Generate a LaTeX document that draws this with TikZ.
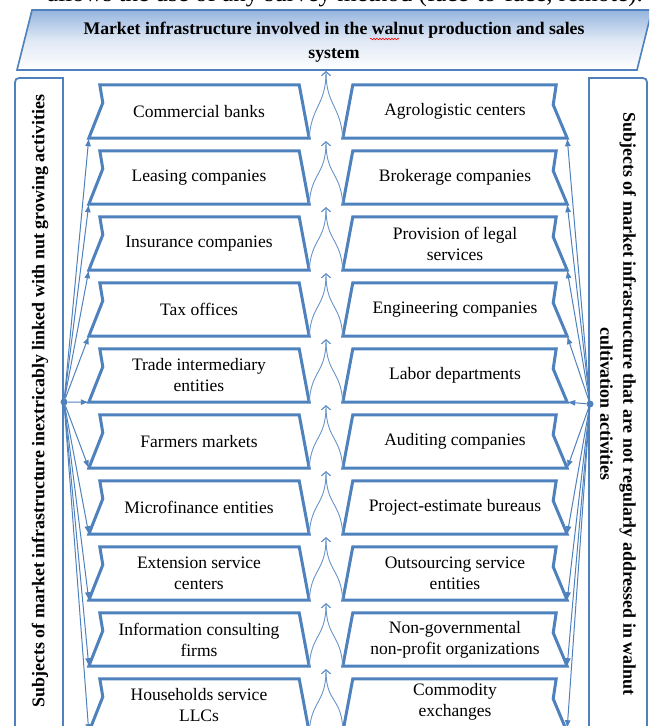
\documentclass[tikz,border=0pt]{standalone}
\usepackage{fontspec}
\setmainfont{Liberation Serif}
\usetikzlibrary{calc,arrows.meta,positioning,decorations.pathmorphing}

\definecolor{boxblue}{RGB}{79,129,189}
\definecolor{bannerblue}{RGB}{150,180,222}

\begin{document}
\begin{tikzpicture}[x=1pt, y=-1pt, >={Latex[length=8pt,width=6pt]}]
    % Define styles for boxes, hubs and connectors
    \tikzstyle{frame} = [draw=boxblue, line width=3pt, line join=miter]
    \tikzstyle{side} = [draw=boxblue, line width=1.8pt]
    \tikzstyle{entity} = [minimum width=220pt, minimum height=53pt, inner sep=0pt, align=center, font=\fontsize{17.5}{21}\selectfont]
    \tikzstyle{rentity} = [entity, minimum width=224pt]
    \tikzstyle{title} = [align=center, font=\fontsize{17.7}{24}\selectfont\bfseries]
    \tikzstyle{sidetext} = [align=center, font=\fontsize{17.9}{23}\selectfont\bfseries]
    \tikzstyle{hub} = [circle, fill=boxblue, inner sep=0pt, minimum size=7pt]
    \tikzstyle{fan} = [draw=boxblue, line width=1pt, ->]
    \tikzstyle{flow} = [draw=boxblue!85, line width=0.9pt, -{Straight Barb[length=4pt,width=9pt]}]

    \useasboundingbox (0,0) rectangle (649,726);
    \clip (0,0) rectangle (649,726);

    % Page text and banner
    \node[anchor=base, font=\fontsize{25}{28}\selectfont] (pageline) at (345,1) {allows the use of any survey method (face-to-face, remote).};
    \draw[draw=boxblue, line width=1.6pt, top color=bannerblue, bottom color=white, middle color=white!70!bannerblue] (32,10) -- (652,10) -- (637,70) -- (17,70) -- cycle;
    \node[title] (banner) at (334,42) {Market infrastructure involved in the walnut production and sales\\ system};
    \draw[red, line width=0.6pt, decorate, decoration={snake, amplitude=0.8pt, segment length=3pt}] (370,39) -- (399,39);

    % Side boxes
    \draw[side] (63,740) -- (63,78) -- (24,78) .. controls (15,78) .. (15,87) -- (15,740);
    \draw[side] (589,740) -- (589,78) -- (638,78) .. controls (647,78) .. (647,87) -- (647,740);
    \node[sidetext, rotate=90] (sideL) at (40,401) {Subjects of market infrastructure inextricably linked with nut growing activities};
    \node[sidetext, rotate=-90] (sideR) at (618,404) {Subjects of market infrastructure that are not regularly addressed in walnut\\ cultivation activities};

    % Nodes placement
    \node[entity] (L1) at (199,111.5) {Commercial banks};
    \node[entity, below of=L1, node distance=66pt] (L2) {Leasing companies};
    \node[entity, below of=L2, node distance=66pt] (L3) {Insurance companies};
    \node[entity, below of=L3, node distance=66pt] (L4) {Tax offices};
    \node[entity, below of=L4, node distance=66pt] (L5) {Trade intermediary\\ entities};
    \node[entity, below of=L5, node distance=66pt] (L6) {Farmers markets};
    \node[entity, below of=L6, node distance=66pt] (L7) {Microfinance entities};
    \node[entity, below of=L7, node distance=66pt] (L8) {Extension service\\ centers};
    \node[entity, below of=L8, node distance=66pt] (L9) {Information consulting\\ firms};
    \node[entity, below of=L9, node distance=66pt] (L10) {Households service\\ LLCs};

    \node[rentity, right of=L1, node distance=256pt] (R1) {Agrologistic centers};
    \node[rentity, below of=R1, node distance=66pt] (R2) {Brokerage companies};
    \node[rentity, below of=R2, node distance=66pt] (R3) {Provision of legal\\ services};
    \node[rentity, below of=R3, node distance=66pt] (R4) {Engineering companies};
    \node[rentity, below of=R4, node distance=66pt] (R5) {Labor departments};
    \node[rentity, below of=R5, node distance=66pt] (R6) {Auditing companies};
    \node[rentity, below of=R6, node distance=66pt] (R7) {Project-estimate bureaus};
    \node[rentity, below of=R7, node distance=66pt] (R8) {Outsourcing service\\ entities};
    \node[rentity, below of=R8, node distance=66pt] (R9) {Non-governmental\\ non-profit organizations};
    \node[rentity, below of=R9, node distance=66pt, yshift=4pt] (R10) {Commodity\\ exchanges};

    % Box outlines
    \foreach \i in {1,...,10} {
        \draw[frame] ($(L\i.north west)+(11,0)$) -- ($(L\i.north east)+(-10,0)$) -- (L\i.south east) -- (L\i.south west) -- ($(L\i.north west)+(14,18)$) -- cycle;
    }
    \foreach \i in {1,...,9} {
        \draw[frame] ($(R\i.north west)+(10,0)$) -- ($(R\i.north east)+(-11,0)$) -- ($(R\i.north east)+(-14,20)$) -- (R\i.south east) -- (R\i.south west) -- cycle;
    }
    \draw[frame] ($(R10.north west)+(10,4)$) -- ($(R10.north east)+(-11,4)$) -- ($(R10.north east)+(-14,24)$) -- ($(R10.south east)+(0,4)$) -- ($(R10.south west)+(0,4)$) -- cycle;

    % Hubs and fan arrows
    \node[hub] (hubL) at (64,402) {};
    \node[hub] (hubR) at (590,404) {};
    \foreach \i in {1,...,10} {
        \draw[fan] (hubL) -- (L\i.south west);
        \draw[fan] (hubR) -- (R\i.south east);
    }

    % Upward flows to the banner
    \coordinate (up1) at (326,71);
    \foreach \i [evaluate=\i as \j using int(\i-1)] in {2,...,10} {
        \coordinate (up\i) at ($(L\j.south east)!0.5!(R\j.south west)+(0,3)$);
    }
    \foreach \i in {1,...,10} {
        \draw[flow] (L\i.south east) .. controls +(2,-32) and +(0,34) .. (up\i);
        \draw[flow] (R\i.south west) .. controls +(-2,-32) and +(0,34) .. (up\i);
    }
\end{tikzpicture}
\end{document}
